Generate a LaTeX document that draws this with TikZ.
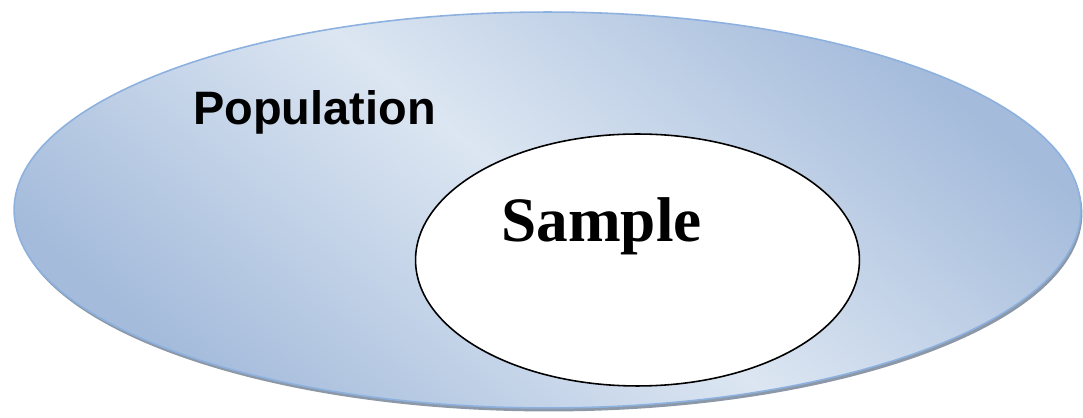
\documentclass[tikz,border=0pt]{standalone}
\usepackage{xcolor}
\usepackage{fontspec}
\setmainfont{Liberation Serif}
\newfontfamily\arialfont{Liberation Sans}
\usepackage{tikz}
\usetikzlibrary{shapes.geometric,shadows,positioning}

\definecolor{popdark}{HTML}{A4BBDB}
\definecolor{poplight}{HTML}{DCE6F2}
\definecolor{popborder}{HTML}{8DB1DF}
\definecolor{popshadow}{HTML}{8C98A8}

\begin{document}
\begin{tikzpicture}[
    x=0.02cm, y=-0.02cm,
    popellipse/.style={ellipse, draw=popborder, line width=0.9pt,
        minimum width=21.34cm, minimum height=7.92cm, inner sep=0pt,
        top color=popdark, bottom color=popdark, middle color=poplight, shading angle=-40,
        drop shadow={shadow xshift=0.03cm, shadow yshift=-0.07cm, fill=popshadow, opacity=1}},
    sampleellipse/.style={ellipse, draw=black, line width=0.9pt, fill=white,
        minimum width=8.88cm, minimum height=5.04cm, inner sep=0pt},
    label/.style={anchor=base west, inner sep=0pt}
]
    \useasboundingbox (0,0) rectangle (1083,418);

    % Population
    \node[popellipse] (population) at (547.5,210) {};
    \node[label, font=\arialfont\bfseries\fontsize{26.7}{30}\selectfont] (poplabel) at (193,125) {Population};

    % Sample inside it
    \node[sampleellipse] (sample) at (637.5,260) {};
    \node[label, font=\bfseries\fontsize{36}{40}\selectfont] (samplelabel) at (501,242) {Sample};
\end{tikzpicture}
\end{document}
